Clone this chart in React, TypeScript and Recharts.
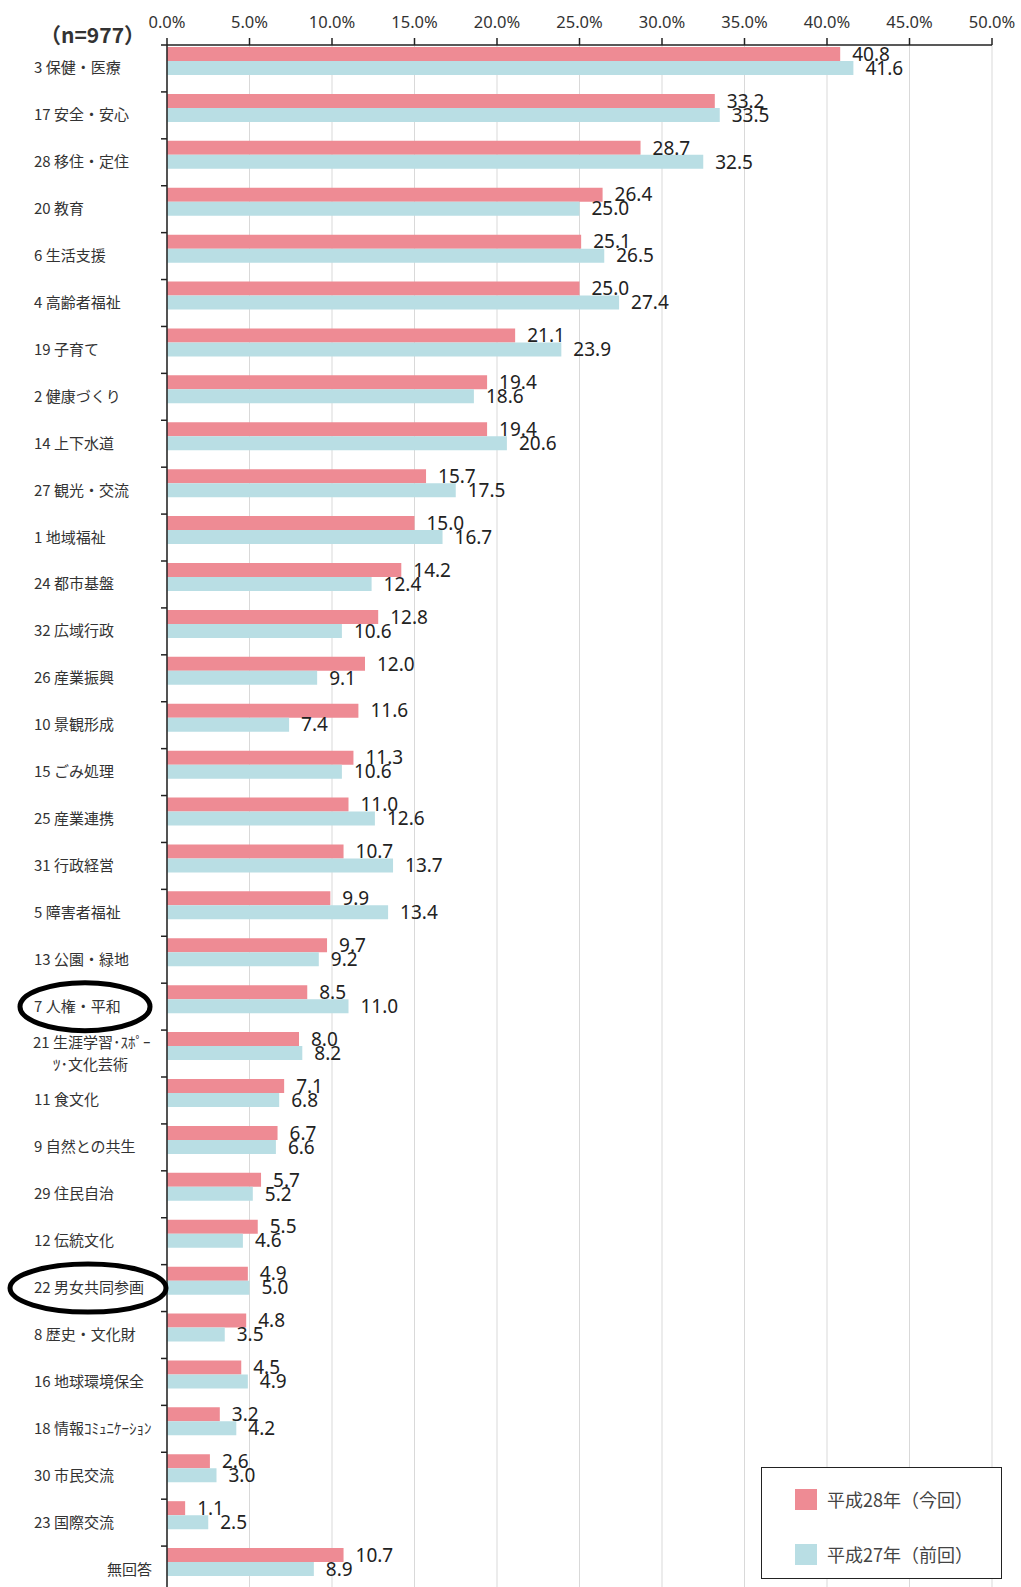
import { BarChart, Bar, XAxis, YAxis, CartesianGrid, LabelList } from "recharts";

const categories = [
  "3 保健・医療",
  "17 安全・安心",
  "28 移住・定住",
  "20 教育",
  "6 生活支援",
  "4 高齢者福祉",
  "19 子育て",
  "2 健康づくり",
  "14 上下水道",
  "27 観光・交流",
  "1 地域福祉",
  "24 都市基盤",
  "32 広域行政",
  "26 産業振興",
  "10 景観形成",
  "15 ごみ処理",
  "25 産業連携",
  "31 行政経営",
  "5 障害者福祉",
  "13 公園・緑地",
  "7 人権・平和",
  "21 生涯学習･ｽﾎﾟｰ\nﾂ･文化芸術",
  "11 食文化",
  "9 自然との共生",
  "29 住民自治",
  "12 伝統文化",
  "22 男女共同参画",
  "8 歴史・文化財",
  "16 地球環境保全",
  "18 情報ｺﾐｭﾆｹｰｼｮﾝ",
  "30 市民交流",
  "23 国際交流",
  "無回答",
];

const h28 = [
  40.8, 33.2, 28.7, 26.4, 25.1, 25.0, 21.1, 19.4, 19.4, 15.7, 15.0, 14.2, 12.8, 12.0, 11.6, 11.3, 11.0,
  10.7, 9.9, 9.7, 8.5, 8.0, 7.1, 6.7, 5.7, 5.5, 4.9, 4.8, 4.5, 3.2, 2.6, 1.1, 10.7,
];

const h27 = [
  41.6, 33.5, 32.5, 25.0, 26.5, 27.4, 23.9, 18.6, 20.6, 17.5, 16.7, 12.4, 10.6, 9.1, 7.4, 10.6, 12.6,
  13.7, 13.4, 9.2, 11.0, 8.2, 6.8, 6.6, 5.2, 4.6, 5.0, 3.5, 4.9, 4.2, 3.0, 2.5, 8.9,
];

const xTicks = [0, 5, 10, 15, 20, 25, 30, 35, 40, 45, 50];
const seriesNames = ["平成28年（今回）", "平成27年（前回）"];
const circled = ["7 人権・平和", "22 男女共同参画"];

const PINK = "#ee8b94";
const BLUE = "#b9dee4";
const PLOT_TOP = 45;
const PLOT_BOTTOM = 1593;
const AXIS_X = 167;
const ROW = (PLOT_BOTTOM - PLOT_TOP) / categories.length;
const JP = "'Noto Sans CJK JP', 'Noto Sans', sans-serif";

const data = categories.map((name, i) => ({ name, h28: h28[i], h27: h27[i], spacer: 0 }));

function CategoryTick(props: any) {
  const { y, payload } = props;
  const label: string = payload.value;
  const lines = label.split("\n");
  const isCircled = circled.includes(label);
  return (
    <g>
      <line x1={AXIS_X - 6} x2={AXIS_X} y1={y - ROW / 2} y2={y - ROW / 2} stroke="#222" strokeWidth={1.5} />
      {label === "無回答" ? (
        <text x={152} y={y + 5} textAnchor="end" fontSize={15} fill="#333" fontFamily={JP}>
          {label}
        </text>
      ) : lines.length > 1 ? (
        <text fontSize={15} fill="#333" fontFamily={JP}>
          <tspan x={33} y={y - 6}>{lines[0]}</tspan>
          <tspan x={53} y={y + 16}>{lines[1]}</tspan>
        </text>
      ) : (
        <text x={34} y={y + 5} fontSize={15} fill="#333" fontFamily={JP}>
          {label}
        </text>
      )}
      {isCircled && (
        <ellipse
          cx={label.startsWith("22") ? 88 : 85}
          cy={y}
          rx={label.startsWith("22") ? 78 : 65}
          ry={24}
          fill="none"
          stroke="#000"
          strokeWidth={5}
        />
      )}
    </g>
  );
}

function LegendBox() {
  const row = (color: string, text: string, top: number) => (
    <div style={{ position: "absolute", left: 33, top, display: "flex", alignItems: "center" }}>
      <div style={{ width: 22, height: 21, background: color }} />
      <span style={{ marginLeft: 10, fontSize: 18, color: "#444", fontFamily: JP }}>{text}</span>
    </div>
  );
  return (
    <div
      style={{
        position: "absolute",
        left: 761,
        top: 1467,
        width: 241,
        height: 112,
        boxSizing: "border-box",
        border: "1.5px solid #222",
        background: "#fff",
        zIndex: 2,
      }}
    >
      {row(PINK, seriesNames[0], 18)}
      {row(BLUE, seriesNames[1], 73)}
    </div>
  );
}

const valueLabel = { fill: "#222", fontSize: 19, fontFamily: "'Noto Sans', sans-serif" };

export default function App() {
  return (
    <div
      style={{
        position: "absolute",
        left: 0,
        top: 0,
        width: 1021,
        height: 1587,
        overflow: "hidden",
        background: "#fff",
      }}
    >
      <div
        style={{
          position: "absolute",
          left: 40,
          top: 19,
          fontSize: 21,
          fontWeight: "bold",
          color: "#333",
          fontFamily: JP,
          zIndex: 2,
        }}
      >
        （n=977）
      </div>
      <BarChart
        width={1021}
        height={1600}
        data={data}
        layout="vertical"
        margin={{ top: 0, right: 29, left: 0, bottom: 1600 - PLOT_BOTTOM }}
        barCategoryGap={2}
        barGap={0}
      >
        <CartesianGrid horizontal={false} stroke="#d9d9d9" />
        <XAxis
          type="number"
          orientation="top"
          domain={[0, 50]}
          ticks={xTicks}
          height={PLOT_TOP}
          tickSize={7}
          tickMargin={10}
          tickFormatter={(v: number) => `${v.toFixed(1)}%`}
          axisLine={{ stroke: "#222", strokeWidth: 1.5 }}
          tickLine={{ stroke: "#222", strokeWidth: 1.5 }}
          tick={{ fill: "#333", fontSize: 16.5, fontFamily: "'Noto Sans', sans-serif" }}
        />
        <YAxis
          type="category"
          dataKey="name"
          width={AXIS_X}
          interval={0}
          axisLine={{ stroke: "#222", strokeWidth: 1.5 }}
          tickLine={false}
          tick={<CategoryTick />}
        />
        <Bar dataKey="h28" name={seriesNames[0]} fill={PINK} isAnimationActive={false}>
          <LabelList
            dataKey="h28"
            position="right"
            offset={12}
            formatter={(v: any) => Number(v).toFixed(1)}
            style={valueLabel}
          />
        </Bar>
        <Bar dataKey="h27" name={seriesNames[1]} fill={BLUE} isAnimationActive={false}>
          <LabelList
            dataKey="h27"
            position="right"
            offset={12}
            formatter={(v: any) => Number(v).toFixed(1)}
            style={valueLabel}
          />
        </Bar>
        <Bar dataKey="spacer" legendType="none" fill="none" isAnimationActive={false} />
      </BarChart>
      <LegendBox />
    </div>
  );
}
